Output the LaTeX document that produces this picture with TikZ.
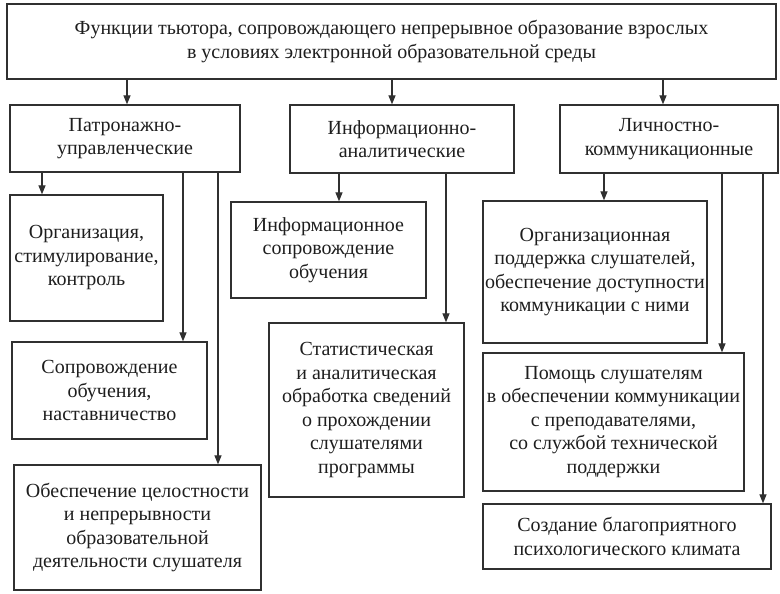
\documentclass[tikz,border=0pt]{standalone}
\usepackage{fontspec}
\setmainfont{Liberation Serif}
\usetikzlibrary{arrows.meta}
\definecolor{ln}{HTML}{303030}
\definecolor{tx}{HTML}{1E1E1E}
\tikzset{
  x=1pt,y=-1pt,
  box/.style={draw=ln, line width=1.3pt, rectangle, inner sep=0pt, align=center, text=tx,
    font=\fontsize{20}{23.5}\selectfont},
  arr/.style={draw=ln, line width=1.2pt, -{Triangle[length=9pt,width=7pt]}}
}
\begin{document}
\begin{tikzpicture}
\useasboundingbox (0,0) rectangle (780,594);
\node[box, minimum width=769, minimum height=75] (top) at (391.5,41.5) {Функции тьютора, сопровождающего непрерывное образование взрослых\\в условиях электронной образовательной среды};
\node[box, minimum width=230, minimum height=67] (cat1) at (125,138.5) {Патронажно-\\управленческие};
\node[box, minimum width=224, minimum height=68] (cat2) at (402,139) {Информационно-\\аналитические};
\node[box, minimum width=218, minimum height=68] (cat3) at (669,139) {Личностно-\\коммуникационные};
\node[box, minimum width=153, minimum height=126] (org) at (86.5,258) {Организация,\\стимулирование,\\контроль};
\node[box, minimum width=195, minimum height=97] (sopr) at (109.5,390.5) {Сопровождение\\обучения,\\наставничество};
\node[box, minimum width=247, minimum height=125] (obesp) at (137.5,527.5) {Обеспечение целостности\\и непрерывности\\образовательной\\деятельности слушателя};
\node[box, minimum width=195, minimum height=96] (info) at (328.5,250) {Информационное\\сопровождение\\обучения};
\node[box, minimum width=195, minimum height=174] (stat) at (366.5,410) {Статистическая\\и аналитическая\\обработка сведений\\о прохождении\\слушателями\\программы};
\node[box, minimum width=224, minimum height=142] (orgp) at (595,272) {Организационная\\поддержка слушателей,\\обеспечение доступности\\коммуникации с ними};
\node[box, minimum width=261, minimum height=138] (pom) at (613.5,422) {Помощь слушателям\\в обеспечении коммуникации\\с преподавателями,\\со службой технической\\поддержки};
\node[box, minimum width=288, minimum height=65] (sozd) at (627,536.5) {Создание благоприятного\\психологического климата};
\coordinate (xa) at (127,0);
\coordinate (xb) at (392,0);
\coordinate (xc) at (663,0);
\coordinate (x1) at (42,0);
\coordinate (x2) at (183,0);
\coordinate (x3) at (218,0);
\coordinate (x4) at (339,0);
\coordinate (x5) at (446,0);
\coordinate (x6) at (604,0);
\coordinate (x7) at (722,0);
\coordinate (x8) at (763,0);
\draw[arr] (top.south -| xa) -- (cat1.north -| xa);
\draw[arr] (top.south -| xb) -- (cat2.north -| xb);
\draw[arr] (top.south -| xc) -- (cat3.north -| xc);
\draw[arr] (cat1.south -| x1) -- (org.north -| x1);
\draw[arr] (cat1.south -| x2) -- (sopr.north -| x2);
\draw[arr] (cat1.south -| x3) -- (obesp.north -| x3);
\draw[arr] (cat2.south -| x4) -- (info.north -| x4);
\draw[arr] (cat2.south -| x5) -- (stat.north -| x5);
\draw[arr] (cat3.south -| x6) -- (orgp.north -| x6);
\draw[arr] (cat3.south -| x7) -- (pom.north -| x7);
\draw[arr] (cat3.south -| x8) -- (sozd.north -| x8);
\end{tikzpicture}
\end{document}
